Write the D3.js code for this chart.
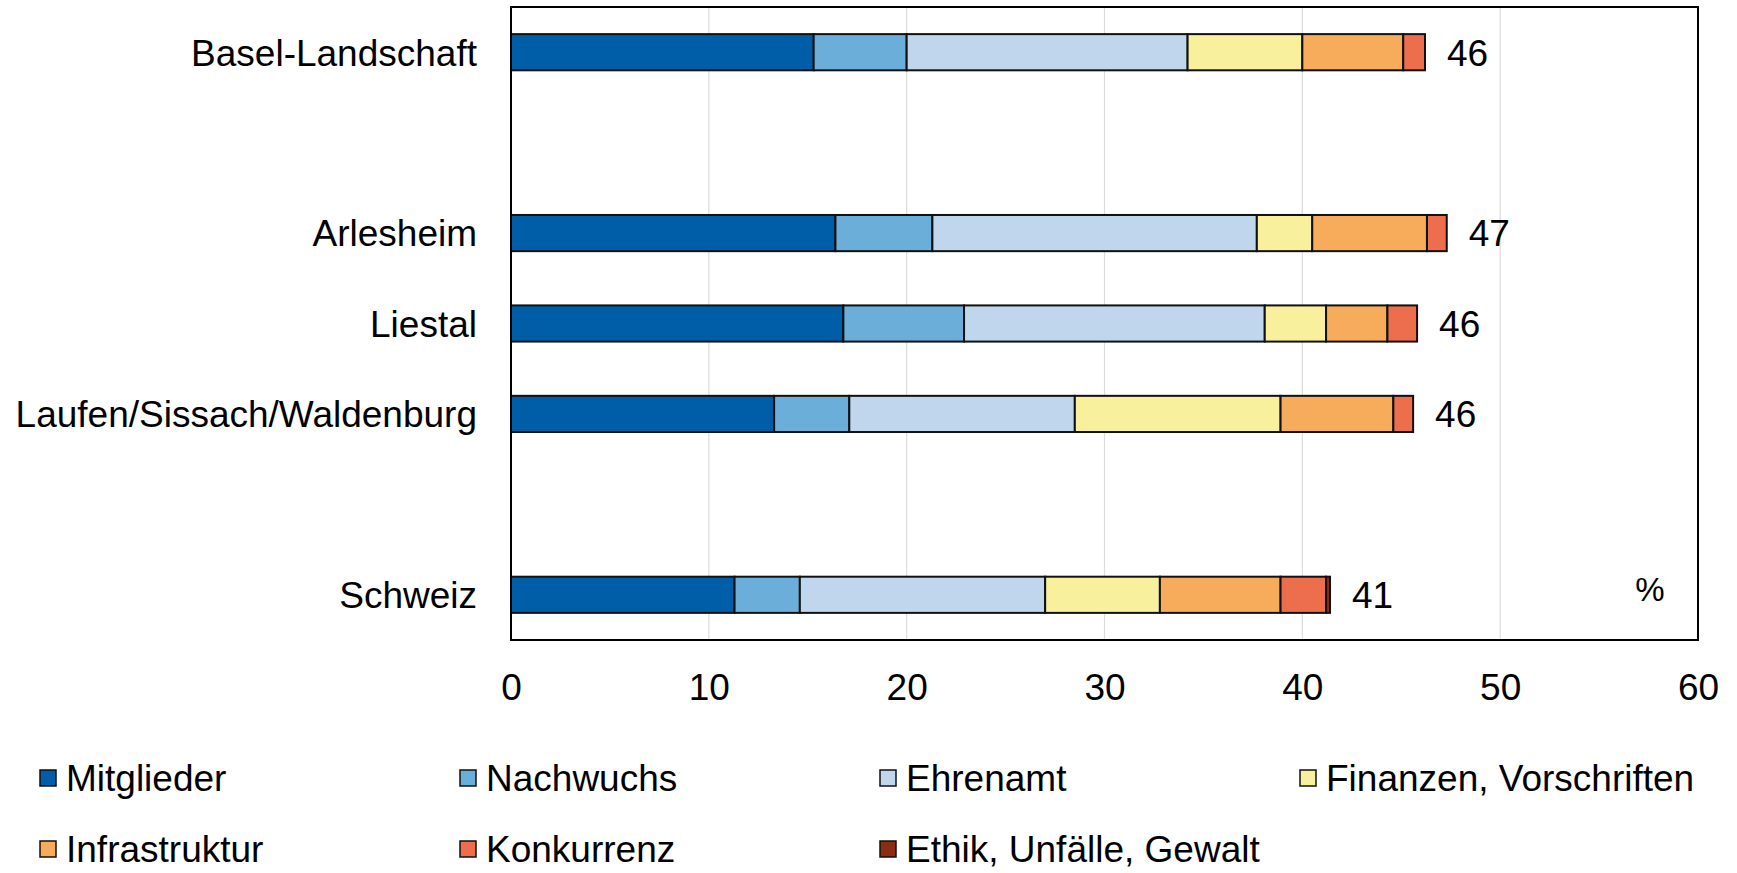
<!DOCTYPE html>
<html>
<head>
<meta charset="utf-8">
<script src="https://cdn.jsdelivr.net/npm/d3@7"></script>
<style>
  html, body { margin: 0; padding: 0; background: #fff; }
  svg { display: block; font-family: "Liberation Sans", Arial, sans-serif; }
</style>
</head>
<body>
<svg id="chart" width="1737" height="873"></svg>
<script>
// Regions shown as bars (top to bottom)
const categories = ["Basel-Landschaft", "Arlesheim", "Liestal", "Laufen/Sissach/Waldenburg", "Schweiz"];
// Row slots, including the empty spacer rows between groups
const slots = ["Basel-Landschaft", "spacer-1", "Arlesheim", "Liestal", "Laufen/Sissach/Waldenburg", "spacer-2", "Schweiz"];

// Problem areas (stack order) and their values in % per region
const seriesNames = ["Mitglieder", "Nachwuchs", "Ehrenamt", "Finanzen, Vorschriften", "Infrastruktur", "Konkurrenz", "Ethik, Unfälle, Gewalt"];
const mitglieder    = [15.3, 16.4, 16.8, 13.3, 11.3];
const nachwuchs     = [ 4.7,  4.9,  6.1,  3.8,  3.3];
const ehrenamt      = [14.2, 16.4, 15.2, 11.4, 12.4];
const finanzen      = [ 5.8,  2.8,  3.1, 10.4,  5.8];
const infrastruktur = [ 5.1,  5.8,  3.1,  5.7,  6.1];
const konkurrenz    = [ 1.1,  1.0,  1.5,  1.0,  2.3];
const ethik         = [ 0.0,  0.0,  0.0,  0.0,  0.2];
const seriesColors  = ["#005ea8", "#6baed9", "#bfd6ec", "#f8f09c", "#f6ac5b", "#ec6e4d", "#8c2d12"];

const xTicks = [0, 10, 20, 30, 40, 50, 60];
const unitLabel = "%";

const seriesValues = [mitglieder, nachwuchs, ehrenamt, finanzen, infrastruktur, konkurrenz, ethik];
const rows = categories.map((c, i) => {
  const r = { category: c };
  seriesNames.forEach((s, j) => { r[s] = seriesValues[j][i]; });
  return r;
});

const FONT = 37;
const svg = d3.select("#chart");
const plot = { left: 511, right: 1698, top: 7, bottom: 640 };

const x = d3.scaleLinear().domain([0, 60]).range([plot.left, plot.right]);
const y = d3.scaleBand().domain(slots).range([plot.top, plot.bottom])
  .paddingInner(0.6).paddingOuter(0.3);

// Vertical gridlines
svg.append("g").selectAll("line")
  .data(xTicks.filter(t => t > 0 && t < 60))
  .join("line")
  .attr("x1", d => x(d)).attr("x2", d => x(d))
  .attr("y1", plot.top).attr("y2", plot.bottom)
  .attr("stroke", "#dcdcdc").attr("stroke-width", 1.2);

// Stacked bars
const stack = d3.stack().keys(seriesNames)(rows);
const layers = svg.append("g").selectAll("g")
  .data(stack)
  .join("g")
  .attr("fill", (d, i) => seriesColors[i]);

layers.selectAll("rect")
  .data(d => d.filter(p => p[1] - p[0] > 0))
  .join("rect")
  .attr("x", p => x(p[0]))
  .attr("width", p => x(p[1]) - x(p[0]))
  .attr("y", p => y(p.data.category))
  .attr("height", y.bandwidth())
  .attr("stroke", "#111")
  .attr("stroke-width", 2);

// Totals at the bar ends
svg.append("g").selectAll("text")
  .data(rows)
  .join("text")
  .attr("x", d => x(d3.sum(seriesNames, s => d[s])) + 22)
  .attr("y", d => y(d.category) + y.bandwidth() / 2)
  .attr("dy", "0.36em")
  .attr("font-size", FONT)
  .attr("fill", "#000")
  .text(d => Math.round(d3.sum(seriesNames, s => d[s])));

// Category labels
svg.append("g").selectAll("text")
  .data(categories)
  .join("text")
  .attr("x", plot.left - 34)
  .attr("y", d => y(d) + y.bandwidth() / 2)
  .attr("dy", "0.36em")
  .attr("text-anchor", "end")
  .attr("font-size", FONT)
  .attr("fill", "#000")
  .text(d => d);

// Plot frame
svg.append("rect")
  .attr("x", plot.left).attr("y", plot.top)
  .attr("width", plot.right - plot.left).attr("height", plot.bottom - plot.top)
  .attr("fill", "none").attr("stroke", "#000").attr("stroke-width", 2);

// X axis labels
const xAxis = d3.axisBottom(x).tickValues(xTicks).tickSize(0).tickPadding(0);
const gx = svg.append("g").attr("transform", `translate(0,${plot.bottom})`).call(xAxis);
gx.select(".domain").remove();
gx.selectAll("text")
  .attr("y", 47).attr("dy", "0.36em")
  .attr("font-size", FONT).attr("fill", "#000")
  .attr("font-family", "Liberation Sans, Arial, sans-serif");

// Unit
svg.append("text")
  .attr("x", 1650).attr("y", 589).attr("dy", "0.36em")
  .attr("text-anchor", "middle").attr("font-size", 33).attr("fill", "#000")
  .text(unitLabel);

// Legend
const legendCols = [40, 460, 880, 1300];
const legendRows = [778, 849];
const legend = svg.append("g").selectAll("g")
  .data(seriesNames)
  .join("g")
  .attr("transform", (d, i) => `translate(${legendCols[i % 4]},${legendRows[Math.floor(i / 4)]})`);
legend.append("rect")
  .attr("x", 0).attr("y", -8).attr("width", 16).attr("height", 16)
  .attr("fill", (d, i) => seriesColors[i]).attr("stroke", "#111").attr("stroke-width", 1.5);
legend.append("text")
  .attr("x", 26).attr("y", 0).attr("dy", "0.36em")
  .attr("font-size", FONT).attr("fill", "#000")
  .text(d => d);
</script>
</body>
</html>
